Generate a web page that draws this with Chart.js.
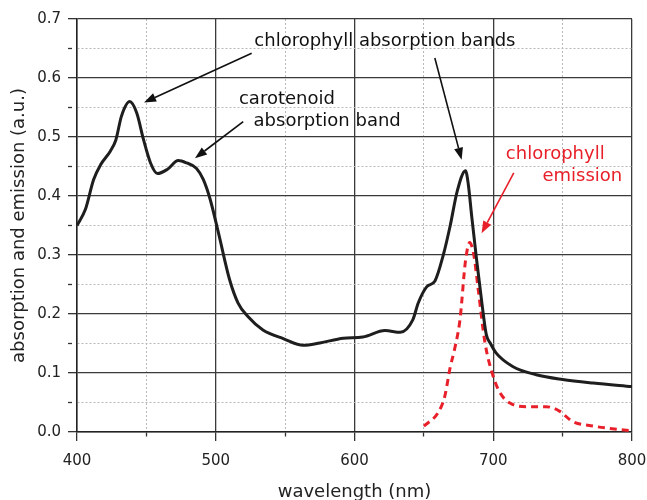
<!DOCTYPE html>
<html>
<head>
<title>Chlorophyll absorption and emission</title>
<script src="https://cdn.jsdelivr.net/npm/chart.js"></script>
<style>html,body{margin:0;padding:0;overflow:hidden;background:#fff}</style>
</head>
<body>
<canvas id="myChart" width="647" height="500"></canvas>
<script>
// absorption spectrum (black line)
var absorptionX = [400, 406, 412, 417, 424, 428, 432, 438, 443, 448, 453, 458, 465, 473, 479, 486, 491, 496, 502, 510, 516, 523, 534, 549, 563, 575, 592, 606, 622, 633, 642, 646, 652, 658, 664, 669, 674, 680, 682, 684.5, 688, 692, 695, 698, 702, 714, 731, 750, 772, 800];
var absorptionY = [0.350, 0.377, 0.428, 0.453, 0.476, 0.495, 0.535, 0.560, 0.541, 0.495, 0.456, 0.438, 0.445, 0.460, 0.456, 0.447, 0.428, 0.394, 0.337, 0.258, 0.219, 0.196, 0.173, 0.158, 0.147, 0.151, 0.159, 0.161, 0.172, 0.169, 0.190, 0.219, 0.246, 0.256, 0.300, 0.350, 0.408, 0.443, 0.420, 0.365, 0.292, 0.215, 0.165, 0.150, 0.134, 0.111, 0.097, 0.089, 0.083, 0.077];

// fluorescence emission (red dashed line)
var emissionX = [650, 660, 665, 669, 672, 676, 680, 683, 686, 689, 694, 700, 705, 712, 724, 738, 748, 757, 772, 800];
var emissionY = [0.010, 0.032, 0.060, 0.110, 0.139, 0.190, 0.290, 0.321, 0.300, 0.245, 0.152, 0.094, 0.066, 0.049, 0.043, 0.043, 0.035, 0.018, 0.010, 0.002];

// labels and arrows, in data units (nm, a.u.)
var labelTexts = ['chlorophyll absorption bands', 'carotenoid', 'absorption band', 'chlorophyll', 'emission'];
var labelX = [621.9, 551.3, 580.3, 744.7, 764.2];
var labelY = [0.662, 0.564, 0.527, 0.4705, 0.4337];
var labelColors = ['#111', '#111', '#111', '#e8202a', '#e8202a'];

var arrowFromX = [525.9, 657.9, 519.8, 714.8];
var arrowFromY = [0.642, 0.634, 0.526, 0.439];
var arrowToX = [448.3, 677.2, 485.0, 691.6];
var arrowToY = [0.5586, 0.4615, 0.464, 0.337];
var arrowColors = ['#111', '#111', '#111', '#e8202a'];

var red = '#e8202a';

function toPoints(xs, ys) {
    return xs.map(function (x, i) { return { x: x, y: ys[i] }; });
}
function majorX(v) { return Math.round(v) % 100 === 0; }
function majorY(v) { return Math.round(v * 100) % 10 === 0; }

var annotations = {
    id: 'annotations',
    afterDatasetsDraw: function (chart) {
        var ctx = chart.ctx, xs = chart.scales.x, ys = chart.scales.y;
        ctx.save();
        ctx.font = '18px "DejaVu Sans"';
        ctx.textAlign = 'center';
        ctx.textBaseline = 'middle';
        labelTexts.forEach(function (t, i) {
            ctx.fillStyle = labelColors[i];
            ctx.fillText(t, xs.getPixelForValue(labelX[i]), ys.getPixelForValue(labelY[i]));
        });
        arrowFromX.forEach(function (fx, i) {
            var x1 = xs.getPixelForValue(fx), y1 = ys.getPixelForValue(arrowFromY[i]);
            var x2 = xs.getPixelForValue(arrowToX[i]), y2 = ys.getPixelForValue(arrowToY[i]);
            var a = Math.atan2(y2 - y1, x2 - x1), len = 12, w = 4.5;
            var bx = x2 - len * Math.cos(a), by = y2 - len * Math.sin(a);
            ctx.strokeStyle = arrowColors[i];
            ctx.fillStyle = arrowColors[i];
            ctx.lineWidth = 1.6;
            ctx.beginPath();
            ctx.moveTo(x1, y1);
            ctx.lineTo(bx, by);
            ctx.stroke();
            ctx.beginPath();
            ctx.moveTo(x2, y2);
            ctx.lineTo(bx + w * Math.sin(a), by - w * Math.cos(a));
            ctx.lineTo(bx - w * Math.sin(a), by + w * Math.cos(a));
            ctx.closePath();
            ctx.fill();
        });
        ctx.restore();
    }
};

Chart.defaults.font.family = '"DejaVu Sans"';
Chart.defaults.color = '#222';

var ctx = document.getElementById('myChart').getContext('2d');
var myChart = new Chart(ctx, {
    type: 'line',
    data: {
        datasets: [
            {
                label: 'absorption',
                data: toPoints(absorptionX, absorptionY),
                borderColor: '#1e1e1e',
                borderWidth: 3,
                pointRadius: 0,
                cubicInterpolationMode: 'monotone',
                fill: false
            },
            {
                label: 'emission',
                data: toPoints(emissionX, emissionY),
                borderColor: red,
                borderWidth: 3,
                borderDash: [7, 5],
                pointRadius: 0,
                cubicInterpolationMode: 'monotone',
                fill: false
            }
        ]
    },
    options: {
        responsive: false,
        animation: false,
        layout: { padding: { top: 19, right: 15, left: 0, bottom: 0 } },
        plugins: { legend: { display: false }, tooltip: { enabled: false } },
        scales: {
            x: {
                type: 'linear',
                min: 400,
                max: 800,
                afterFit: function (s) { s.height = 68; s.paddingLeft = 0; s.paddingRight = 0; },
                ticks: {
                    stepSize: 50,
                    autoSkip: false,
                    maxRotation: 0,
                    padding: 11,
                    font: { size: 15 },
                    callback: function (v) { return majorX(v) ? String(v) : ''; }
                },
                grid: {
                    color: function (c) { return c.tick && majorX(c.tick.value) ? '#3a3a3a' : '#b8b8b8'; },
                    lineWidth: function (c) { return c.tick && majorX(c.tick.value) ? 1.3 : 1; },
                    tickColor: '#333',
                    tickLength: 9,
                    tickWidth: 1.3,
                    tickBorderDash: function (c) { return c.tick && majorX(c.tick.value) ? [] : [4, 20]; }
                },
                border: {
                    color: '#222',
                    width: 1.5,
                    dash: function (c) { return c.tick && !majorX(c.tick.value) ? [2, 2] : []; }
                },
                title: {
                    display: true,
                    text: 'wavelength (nm)',
                    font: { size: 18 },
                    padding: { top: 0, bottom: -3 }
                }
            },
            y: {
                min: 0,
                max: 0.7,
                afterFit: function (s) { s.width = 77; s.paddingTop = 0; s.paddingBottom = 0; },
                ticks: {
                    stepSize: 0.05,
                    autoSkip: false,
                    padding: 7,
                    font: { size: 15 },
                    callback: function (v) { return majorY(v) ? v.toFixed(1) : ''; }
                },
                grid: {
                    color: function (c) { return c.tick && majorY(c.tick.value) ? '#3a3a3a' : '#b8b8b8'; },
                    lineWidth: function (c) { return c.tick && majorY(c.tick.value) ? 1.3 : 1; },
                    tickColor: '#333',
                    tickLength: 9,
                    tickWidth: 1.3,
                    tickBorderDash: function (c) { return c.tick && majorY(c.tick.value) ? [] : [4, 20]; }
                },
                border: {
                    color: '#222',
                    width: 1.5,
                    dash: function (c) { return c.tick && !majorY(c.tick.value) ? [2, 2] : []; }
                },
                title: {
                    display: true,
                    text: 'absorption and emission (a.u.)',
                    font: { size: 18 },
                    padding: { top: 9, bottom: 0 }
                }
            }
        }
    },
    plugins: [annotations]
});
</script>
</body>
</html>
